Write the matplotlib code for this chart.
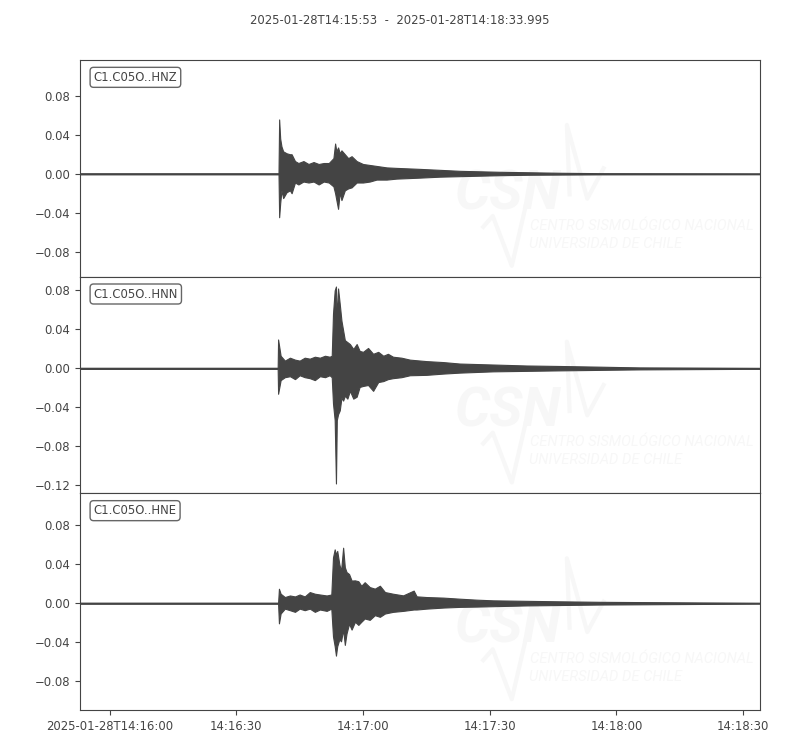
import numpy as np
import matplotlib
matplotlib.use('Agg')
import matplotlib.pyplot as plt
from matplotlib.ticker import MultipleLocator

# envelope of each trace
# time in seconds after 2025-01-28T14:15:53, upper / lower amplitude
t_hnz = [0, 47.0, 47.15, 47.4, 47.7, 48.1, 48.9, 49.7, 50.1, 50.9, 51.7, 52.9, 54.1, 55.3,
         56.5, 57.7, 58.9, 60.0, 60.4, 60.7, 61.1, 61.5, 61.9, 62.7, 63.5, 64.3, 65.5,
         67.0, 68.6, 70.2, 72.6, 74.9, 80.4, 85.2, 89.9, 94.6, 99.4, 106.5, 113.6, 123.0,
         161.0]
up_hnz = [0.0005, 0.0005, 0.0557, 0.036, 0.028, 0.023, 0.021, 0.020, 0.020, 0.013, 0.011,
          0.013, 0.010, 0.012, 0.010, 0.011, 0.011, 0.016, 0.031, 0.023, 0.027, 0.021,
          0.024, 0.020, 0.016, 0.018, 0.013, 0.010, 0.009, 0.008, 0.0065, 0.006, 0.005,
          0.004, 0.003, 0.0025, 0.002, 0.0015, 0.001, 0.0006, 0.0004]
lo_hnz = [-0.0005, -0.0005, -0.0446, -0.030, -0.017, -0.025, -0.019, -0.017, -0.020,
          -0.009, -0.011, -0.008, -0.009, -0.008, -0.011, -0.008, -0.009, -0.013, -0.020,
          -0.027, -0.036, -0.019, -0.027, -0.017, -0.015, -0.014, -0.009, -0.009, -0.008,
          -0.006, -0.006, -0.005, -0.004, -0.003, -0.0025, -0.002, -0.0015, -0.001,
          -0.0008, -0.0005, -0.0004]

t_hnn = [0, 46.8, 46.9, 47.5, 48.5, 49.7, 50.9, 52.0, 53.2, 54.4, 55.6, 56.8, 58.0, 59.1,
         59.6, 59.9, 60.3, 60.6, 60.8, 61.1, 61.5, 61.9, 62.3, 62.7, 63.3, 63.9, 64.7,
         65.5, 66.2, 67.0, 68.2, 69.4, 70.6, 71.8, 72.9, 74.1, 76.1, 78.1, 82.0, 86.0,
         89.9, 97.8, 105.7, 113.6, 123.0, 132.5, 156.1, 161.0]
up_hnn = [0.0005, 0.0005, 0.0297, 0.013, 0.008, 0.011, 0.009, 0.008, 0.011, 0.010, 0.012,
          0.011, 0.013, 0.012, 0.013, 0.056, 0.080, 0.084, 0.049, 0.082, 0.066, 0.049,
          0.039, 0.029, 0.027, 0.025, 0.020, 0.025, 0.018, 0.017, 0.021, 0.015, 0.017,
          0.013, 0.015, 0.012, 0.011, 0.009, 0.0075, 0.0065, 0.005, 0.004, 0.003, 0.0025,
          0.0018, 0.001, 0.0005, 0.0004]
lo_hnn = [-0.0005, -0.0005, -0.026, -0.012, -0.009, -0.008, -0.011, -0.007, -0.009,
          -0.010, -0.012, -0.008, -0.009, -0.007, -0.009, -0.036, -0.053, -0.118, -0.053,
          -0.047, -0.043, -0.030, -0.033, -0.028, -0.031, -0.023, -0.031, -0.029, -0.019,
          -0.018, -0.017, -0.023, -0.014, -0.013, -0.011, -0.010, -0.009, -0.007, -0.0066,
          -0.0053, -0.0043, -0.003, -0.0025, -0.002, -0.0015, -0.001, -0.0005, -0.0004]

t_hne = [0, 46.9, 47.1, 47.5, 48.5, 49.7, 50.9, 52.0, 53.2, 54.4, 55.6, 56.8, 58.4, 59.5,
         59.9, 60.3, 60.6, 60.9, 61.4, 61.8, 62.3, 62.7, 63.1, 63.7, 64.3, 65.1, 65.9,
         66.6, 67.4, 68.6, 69.8, 71.0, 72.2, 74.1, 76.5, 79.0, 79.7, 82.0, 86.0, 89.9,
         93.9, 97.8, 105.7, 113.6, 123.0, 146.7, 161.0]
up_hne = [0.0005, 0.0005, 0.0149, 0.0098, 0.0064, 0.008, 0.007, 0.009, 0.007, 0.0115,
          0.0098, 0.009, 0.008, 0.009, 0.047, 0.0553, 0.050, 0.0537, 0.040, 0.033, 0.057,
          0.037, 0.032, 0.030, 0.0233, 0.0235, 0.0226, 0.018, 0.0216, 0.0166, 0.015, 0.018,
          0.0115, 0.0098, 0.0081, 0.013, 0.0071, 0.0064, 0.0058, 0.0047, 0.0037, 0.003,
          0.0025, 0.002, 0.0015, 0.0008, 0.0004]
lo_hne = [-0.0005, -0.0005, -0.0206, -0.0105, -0.0055, -0.0071, -0.0088, -0.0055, -0.0071,
          -0.0055, -0.0088, -0.0064, -0.0078, -0.0055, -0.034, -0.044, -0.0537, -0.044,
          -0.037, -0.039, -0.027, -0.0427, -0.031, -0.021, -0.027, -0.019, -0.0222, -0.019,
          -0.0156, -0.017, -0.0122, -0.0139, -0.0105, -0.0088, -0.0078, -0.0064, -0.0064,
          -0.0055, -0.0044, -0.0037, -0.0034, -0.003, -0.0022, -0.0018, -0.0013, -0.0007,
          -0.0004]

labels = ['C1.C05O..HNZ', 'C1.C05O..HNN', 'C1.C05O..HNE']
title = '2025-01-28T14:15:53  -  2025-01-28T14:18:33.995'
xtick_pos = [7, 37, 67, 97, 127, 157]
xtick_lab = ['2025-01-28T14:16:00', '14:16:30', '14:17:00', '14:17:30', '14:18:00', '14:18:30']
t_end = 160.995

traces = [(t_hnz, up_hnz, lo_hnz), (t_hnn, up_hnn, lo_hnn), (t_hne, up_hne, lo_hne)]

col = '#444444'
fs = 8.4
plt.rcParams['font.family'] = 'DejaVu Sans'

fig = plt.figure(figsize=(8, 7.5), dpi=100)
left, right, top, bottom = 0.1, 0.95, 0.92, 1 - 710 / 750
h = (top - bottom) / 3

# common amplitude range (equal scale)
ranges = [max(u) - min(l) for _, u, l in traces]
half = 0.55 * max(ranges)

for i, (t, up, lo) in enumerate(traces):
    ax = fig.add_axes([left, top - (i + 1) * h, right - left, h])
    t = np.array(t)
    up = np.array(up)
    lo = np.array(lo)
    ax.fill_between(t, lo, up, color=col, lw=0.8, edgecolor=col, zorder=3)
    ax.plot([0, t_end], [0, 0], color=col, lw=1.0, zorder=3)
    mid = (up.max() + lo.min()) / 2
    ax.set_ylim(mid - half, mid + half)
    ax.set_xlim(0, t_end)
    ax.yaxis.set_major_locator(MultipleLocator(0.04))
    ax.tick_params(colors=col, labelsize=fs, length=3.5, width=0.8)
    for s in ax.spines.values():
        s.set_color(col)
    ax.text(0.02, 0.95, labels[i], transform=ax.transAxes, va='top', ha='left',
            fontsize=fs, color=col, zorder=5,
            bbox=dict(boxstyle='round,pad=0.3', fc='w', ec='#666666', lw=1))

    # faint watermark logo
    wm = '#f7f7f7'
    ax.text(0.551, 0.31, 'CSN', transform=ax.transAxes, fontsize=40, fontweight='bold',
            style='italic', color=wm, family='Roboto', zorder=1)
    ax.text(0.662, 0.217, 'CENTRO SISMOLÓGICO NACIONAL', transform=ax.transAxes,
            fontsize=10.5, style='italic', color=wm, family='Roboto', zorder=1)
    ax.text(0.660, 0.134, 'UNIVERSIDAD DE CHILE', transform=ax.transAxes,
            fontsize=10.5, style='italic', color=wm, family='Roboto', zorder=1)
    ax.plot([0.593, 0.607, 0.635, 0.655], [0.23, 0.28, 0.05, 0.32],
            transform=ax.transAxes, color=wm, lw=3, zorder=1)
    ax.plot([0.72, 0.716, 0.746, 0.77], [0.38, 0.70, 0.36, 0.50],
            transform=ax.transAxes, color=wm, lw=3, zorder=1)

    if i < 2:
        ax.tick_params(bottom=False, labelbottom=False)
    else:
        ax.set_xticks(xtick_pos)
        ax.set_xticklabels(xtick_lab)

fig.text(0.5, 1 - 20 / 750, title, ha='center', va='center', fontsize=fs, color=col)

plt.savefig('out.png', dpi=100)
